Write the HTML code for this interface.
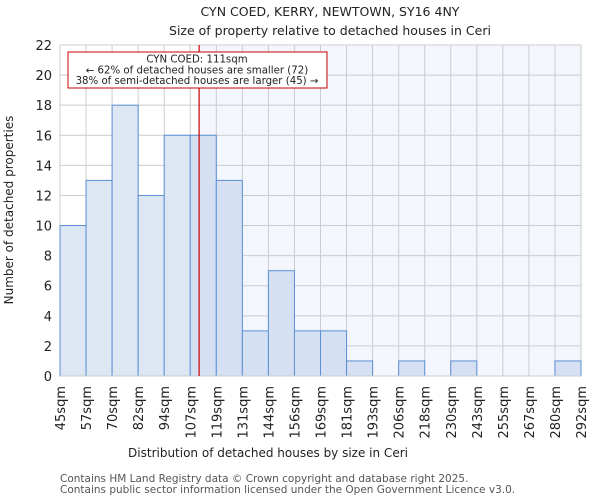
<!DOCTYPE html>
<html><head><meta charset="utf-8"><style>
body{margin:0;background:#fff;font-family:"DejaVu Sans","Liberation Sans",sans-serif;}
svg text{font-family:"DejaVu Sans","Liberation Sans",sans-serif;fill:#222;}
</style></head><body>
<svg id="chart" width="600" height="500">
<text x="330" y="16" font-size="12.5" text-anchor="middle">CYN COED, KERRY, NEWTOWN, SY16 4NY</text>
<text x="330" y="35" font-size="12.5" text-anchor="middle">Size of property relative to detached houses in Ceri</text>
<g id="plot"></g>
<text x="268" y="457" font-size="12" text-anchor="middle">Distribution of detached houses by size in Ceri</text>
<text transform="translate(13,210) rotate(-90)" font-size="12" text-anchor="middle">Number of detached properties</text>
<text x="60" y="482" font-size="10.5" style="fill:#555">Contains HM Land Registry data © Crown copyright and database right 2025.</text>
<text x="60" y="493" font-size="10.5" style="fill:#555">Contains public sector information licensed under the Open Government Licence v3.0.</text>
</svg>
<script>
const categories=["45sqm","57sqm","70sqm","82sqm","94sqm","107sqm","119sqm","131sqm","144sqm","156sqm","169sqm","181sqm","193sqm","206sqm","218sqm","230sqm","243sqm","255sqm","267sqm","280sqm","292sqm"];
const counts=[10,13,18,12,16,16,13,3,7,3,3,1,0,1,0,1,0,0,0,1];
const yTicks=[0,2,4,6,8,10,12,14,16,18,20,22];
const propertyBin=5.34;
const L=60,R=581,T=45,B=376,yMax=22;
const NS="http://www.w3.org/2000/svg";
const g=document.getElementById('plot');
const bw=(R-L)/counts.length;
const xs=i=>L+i*bw;
const ys=v=>B-(v/yMax)*(B-T);
function mk(t,a){const e=document.createElementNS(NS,t);for(const k in a)e.setAttribute(k,a[k]);g.appendChild(e);return e;}
const px=xs(propertyBin);
let e=mk('rect',{x:px,y:T,width:R-px,height:B-T,fill:'#f3f6fd'});


yTicks.forEach(v=>{
 let l=mk('line',{x1:L,x2:R,y1:ys(v),y2:ys(v),stroke:'#ccc','stroke-width':1});
 
 
 let t=mk('text',{x:L-8,y:ys(v)+5,'font-size':13,'text-anchor':'end'});t.textContent=v;
 
 
});
categories.forEach((c,i)=>{
 let l=mk('line',{x1:xs(i),x2:xs(i),y1:T,y2:B,stroke:'#ccc','stroke-width':1});
 
 
 let t=mk('text',{transform:`translate(${xs(i)+5},${B+10}) rotate(-90)`,'font-size':13,'text-anchor':'end'});t.textContent=c;
 
 
});
counts.forEach((v,i)=>{
 if(v<=0)return;
 let r=mk('rect',{x:xs(i),y:ys(v),width:bw,height:B-ys(v),fill:i+1>propertyBin?'#d5e0f2':'#dde6f3',stroke:'#5b8fd6','stroke-width':1});
 
 
});
let ax=mk('line',{x1:L,x2:R,y1:B,y2:B,stroke:'#ccc'});


let pl=mk('line',{x1:px,x2:px,y1:T,y2:B,stroke:'#c00','stroke-width':1.2});


let box=mk('rect',{x:68,y:52,width:259,height:36,fill:'#fff',stroke:'#c00','stroke-width':1});


[["CYN COED: 111sqm",62.5],["← 62% of detached houses are smaller (72)",73.5],["38% of semi-detached houses are larger (45) →",84]].forEach(([s,y])=>{
 let t=mk('text',{x:197,y:y,'font-size':10.2,'text-anchor':'middle'});t.textContent=s;
 
 
});
</script>
</body></html>
